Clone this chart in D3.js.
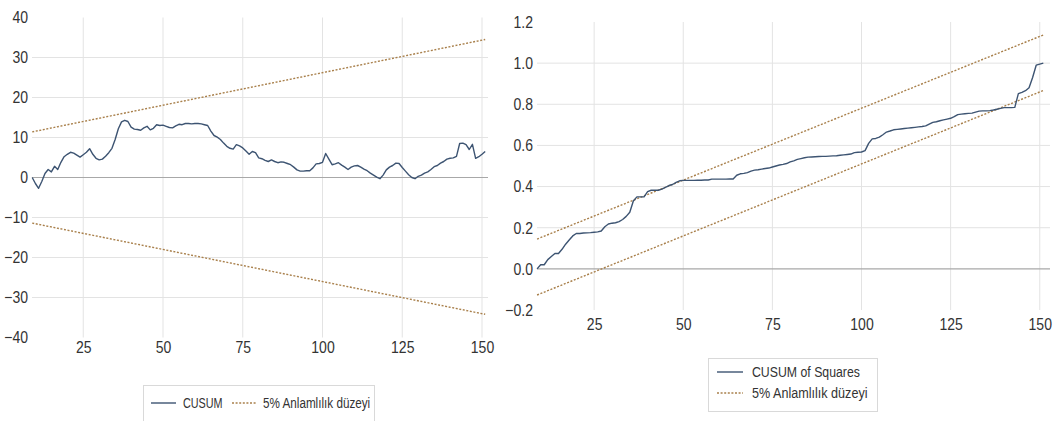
<!DOCTYPE html>
<html>
<head>
<meta charset="utf-8">
<script src="https://cdn.jsdelivr.net/npm/d3@7"></script>
<style>
  html, body { margin: 0; padding: 0; background: #fff; }
  svg { display: block; }
  text { font-family: "Liberation Sans", Arial, sans-serif; fill: #333; }
</style>
</head>
<body>
<svg id="chart" width="1055" height="421"></svg>
<script>
// Recursive residual tests, observations 9..151
const firstObs = 9;

const cusum = [
  0, -1.5, -2.7, -1.0, 1.0, 2.0, 1.4, 2.8, 2.0, 3.8,
  5.2, 5.8, 6.3, 6.1, 5.6, 5.1, 5.7, 6.3, 7.2, 5.8,
  4.8, 4.4, 4.6, 5.3, 6.2, 7.3, 9.5, 12.2, 13.9, 14.3,
  14.0, 12.6, 12.1, 12.0, 11.8, 12.4, 12.8, 11.9, 12.3, 13.2,
  13.0, 13.1, 12.8, 12.5, 12.4, 12.9, 13.3, 13.2, 13.5, 13.5,
  13.4, 13.5, 13.5, 13.4, 13.2, 13.0, 11.6, 10.5, 10.1, 9.5,
  8.6, 7.8, 7.3, 7.1, 8.2, 7.9, 7.4, 6.6, 5.8, 6.5,
  6.2, 4.9, 4.7, 4.3, 4.0, 4.4, 4.0, 3.7, 3.9, 3.8,
  3.5, 3.2, 2.6, 1.9, 1.6, 1.6, 1.7, 1.7, 2.4, 3.4,
  3.5, 3.8, 6.0, 4.6, 3.2, 3.4, 3.7, 3.1, 2.6, 2.0,
  2.6, 2.9, 3.0, 2.6, 2.1, 1.7, 1.1, 0.6, 0.1, -0.3,
  0.6, 1.9, 2.6, 3.0, 3.6, 3.5, 2.5, 1.6, 0.7, 0.0,
  -0.3, 0.3, 0.6, 1.1, 1.4, 2.0, 2.7, 3.0, 3.6, 4.0,
  4.6, 4.8, 4.9, 5.3, 8.5, 8.6, 8.2, 7.0, 8.3, 4.8,
  5.2, 5.8, 6.5
];

const cusumSq = [
  0.0, 0.02, 0.02, 0.045, 0.06, 0.075, 0.075, 0.095, 0.12, 0.14,
  0.16, 0.172, 0.172, 0.174, 0.175, 0.176, 0.178, 0.18, 0.184, 0.205,
  0.218, 0.222, 0.224, 0.23, 0.24, 0.255, 0.275, 0.33, 0.35, 0.35,
  0.35, 0.375, 0.382, 0.382, 0.382, 0.388, 0.396, 0.405, 0.41, 0.42,
  0.428, 0.43, 0.43, 0.43, 0.43, 0.431, 0.431, 0.432, 0.432, 0.436,
  0.436, 0.436, 0.436, 0.436, 0.437, 0.437, 0.455, 0.462, 0.464, 0.468,
  0.475, 0.48, 0.482, 0.485, 0.488, 0.49, 0.495, 0.5, 0.505, 0.508,
  0.512, 0.52, 0.525, 0.532, 0.536, 0.54, 0.543, 0.544, 0.545, 0.546,
  0.547, 0.547, 0.548, 0.549, 0.55, 0.552, 0.554, 0.556, 0.558, 0.565,
  0.567, 0.568, 0.575, 0.61, 0.632, 0.634, 0.64, 0.652, 0.665, 0.67,
  0.676, 0.678, 0.68, 0.682, 0.684, 0.686, 0.688, 0.69, 0.692, 0.695,
  0.704, 0.712, 0.715, 0.72, 0.724, 0.728, 0.732, 0.74, 0.75, 0.752,
  0.754, 0.756, 0.757, 0.762, 0.767, 0.768, 0.768, 0.769, 0.772, 0.776,
  0.78, 0.784, 0.784, 0.784, 0.785, 0.852, 0.858, 0.866, 0.88, 0.93,
  0.99, 0.995, 1.0
];

// 5% significance bounds (straight lines, first and last observation)
const boundObs = [9, 151];
const cusumUpper = [11.4, 34.5];
const cusumLower = [-11.4, -34.2];
const cusumSqUpper = [0.145, 1.137];
const cusumSqLower = [-0.127, 0.867];

const xTicks = [25, 50, 75, 100, 125, 150];
const cusumTicks = [-40, -30, -20, -10, 0, 10, 20, 30, 40];
const cusumSqTicks = [-0.2, 0.0, 0.2, 0.4, 0.6, 0.8, 1.0, 1.2];

const seriesName1 = "CUSUM";
const seriesName2 = "CUSUM of Squares";
const boundName = "5% Anlamlılık düzeyi";

const lineColor = "#3d5472";
const boundColor = "#a9804c";
const gridColor = "#e3e3e3";
const zeroColor = "#a8a8a8";

// narrow lettering: squeeze glyphs horizontally around their anchor
const axisFont = 16.5, axisSqueeze = 0.85;

const svg = d3.select("#chart");

function panel(cfg) {
  const g = svg.append("g");
  const x = d3.scaleLinear().domain(cfg.xDomain).range(cfg.xRange);
  const y = d3.scaleLinear().domain(cfg.yDomain).range(cfg.yRange);
  const [yTop, yBot] = [y(cfg.yDomain[1]), y(cfg.yDomain[0])];

  // vertical grid
  g.append("g").selectAll("line").data(xTicks).join("line")
    .attr("x1", d => x(d)).attr("x2", d => x(d))
    .attr("y1", yTop).attr("y2", yBot)
    .attr("stroke", gridColor).attr("stroke-width", 1);

  // horizontal grid (inner ticks only)
  const inner = cfg.yTicks.filter(d => d > cfg.yDomain[0] && d < cfg.yDomain[1]);
  g.append("g").selectAll("line").data(inner).join("line")
    .attr("x1", cfg.gridX[0]).attr("x2", cfg.gridX[1])
    .attr("y1", d => y(d)).attr("y2", d => y(d))
    .attr("stroke", d => Math.abs(d) < 1e-9 ? zeroColor : gridColor)
    .attr("stroke-width", d => Math.abs(d) < 1e-9 ? 1.2 : 1);

  // y axis labels
  const yAxis = d3.axisLeft(y).tickValues(cfg.yTicks).tickFormat(cfg.yFormat).tickSize(0).tickPadding(0);
  g.append("g").attr("transform", `translate(${cfg.yLabelX},0)`).call(yAxis)
    .call(s => s.select(".domain").remove())
    .selectAll("text")
    .attr("font-size", axisFont).attr("fill", "#333")
    .attr("font-family", "'Liberation Sans', Arial, sans-serif")
    .attr("transform", `scale(${axisSqueeze},1)`);

  // x axis labels
  const xAxis = d3.axisBottom(x).tickValues(xTicks).tickSize(0).tickPadding(0);
  g.append("g").attr("transform", `translate(0,${cfg.xLabelY})`).call(xAxis)
    .call(s => s.select(".domain").remove())
    .selectAll("text")
    .attr("font-size", axisFont).attr("fill", "#333")
    .attr("font-family", "'Liberation Sans', Arial, sans-serif")
    .attr("transform", `scale(${axisSqueeze},1)`);

  // bounds
  const bLine = d3.line().x((d, i) => x(boundObs[i])).y(d => y(d));
  [cfg.upper, cfg.lower].forEach(b => {
    g.append("path").attr("d", bLine(b))
      .attr("fill", "none").attr("stroke", boundColor)
      .attr("stroke-width", 1.4).attr("stroke-dasharray", "2,1.6");
  });

  // series
  const sLine = d3.line().x((d, i) => x(firstObs + i)).y(d => y(d));
  g.append("path").attr("d", sLine(cfg.values))
    .attr("fill", "none").attr("stroke", lineColor)
    .attr("stroke-width", 1.4).attr("stroke-linejoin", "round");

  return g;
}

panel({
  xDomain: [0, 150], xRange: [3.5, 482],
  yDomain: [-40, 40], yRange: [337.5, 17.5],
  yTicks: cusumTicks, yFormat: d3.format("d"),
  gridX: [32, 488], yLabelX: 28, xLabelY: 341,
  upper: cusumUpper, lower: cusumLower, values: cusum
});

panel({
  xDomain: [0, 150], xRange: [505, 1039.75],
  yDomain: [-0.2, 1.2], yRange: [310, 22],
  yTicks: cusumSqTicks, yFormat: d3.format(".1f"),
  gridX: [537, 1050], yLabelX: 533, xLabelY: 318,
  upper: cusumSqUpper, lower: cusumSqLower, values: cusumSq
});

// legends
function legendEntry(g, lx, ly, lineLen, gap, name, isBound, fs, squeeze) {
  g.append("line").attr("x1", lx).attr("x2", lx + lineLen).attr("y1", ly).attr("y2", ly)
    .attr("stroke", isBound ? boundColor : lineColor)
    .attr("stroke-width", 1.4)
    .attr("stroke-dasharray", isBound ? "2,1.6" : null);
  g.append("text")
    .attr("transform", `translate(${lx + lineLen + gap},${ly}) scale(${squeeze},1)`)
    .attr("dy", "0.35em")
    .attr("font-size", fs).text(name);
}

const leg1 = svg.append("g");
leg1.append("rect").attr("x", 143.5).attr("y", 385.5).attr("width", 231).attr("height", 40)
  .attr("fill", "#fff").attr("stroke", "#d9d9d9");
legendEntry(leg1, 151, 403, 25, 7, seriesName1, false, 15, 0.72);
legendEntry(leg1, 232, 403, 25, 6, boundName, true, 15, 0.78);

const leg2 = svg.append("g");
leg2.append("rect").attr("x", 708.5).attr("y", 358.5).attr("width", 169).attr("height", 53)
  .attr("fill", "#fff").attr("stroke", "#d9d9d9");
legendEntry(leg2, 717, 372, 26, 9, seriesName2, false, 15, 0.82);
legendEntry(leg2, 717, 393, 26, 9, boundName, true, 15, 0.84);
</script>
</body>
</html>
